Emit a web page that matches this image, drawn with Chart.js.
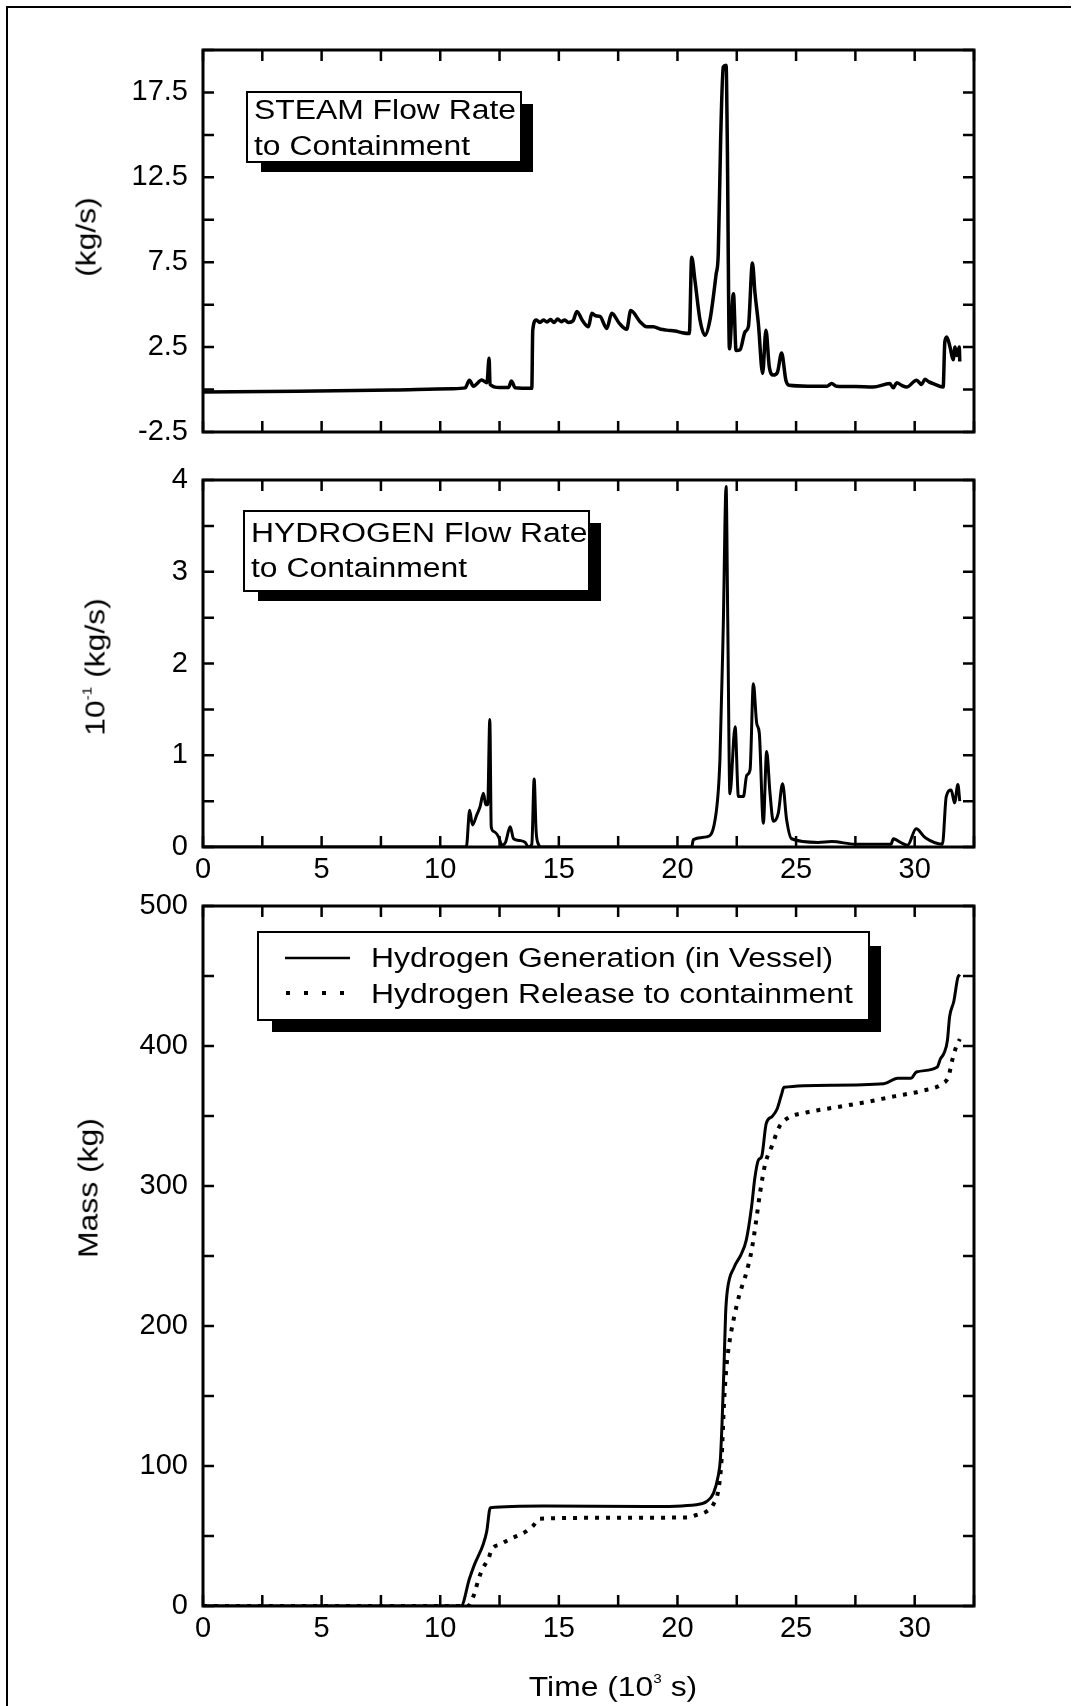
<!DOCTYPE html>
<html>
<head>
<meta charset="utf-8">
<title>Steam and hydrogen flow to containment</title>
<script src="https://cdn.jsdelivr.net/npm/chart.js@4.4.0/dist/chart.umd.min.js"></script>
<style>
  html, body { margin: 0; padding: 0; background: #fff; }
  body { width: 1087px; height: 1706px; position: relative; overflow: hidden;
         font-family: "Liberation Sans", Arial, sans-serif; color: #000; }
  canvas { position: absolute; left: 0; }
  .rule { position: absolute; background: #000; }
  .box { position: absolute; box-sizing: border-box; border: 2px solid #000; background: #fff;
         box-shadow: 13px 11px 0 -2px #000; }
  .txt { position: absolute; font-size: 27px; line-height: 36px; white-space: nowrap;
         transform-origin: 0 0; transform: scaleX(1.18); }
  .axt { position: absolute; font-size: 27px; line-height: 1; white-space: nowrap;
         transform: translate(-50%, -50%) scaleX(1.18); }
  .axt.rot { transform: translate(-50%, -50%) rotate(-90deg) scaleX(1.18); }
  .axt sup { font-size: 13px; vertical-align: 0; position: relative; top: -13px; }
</style>
</head>
<body>
<div class="rule" style="left:8px; top:6px; width:1063px; height:2px"></div>
<div class="rule" style="left:6px; top:6px; width:2px; height:1700px"></div>

<canvas id="steam" width="1087" height="450" style="top:0"></canvas>
<canvas id="hydrogen" width="1087" height="438" style="top:450px"></canvas>
<canvas id="mass" width="1087" height="818" style="top:888px"></canvas>

<!-- panel captions -->
<div class="box" style="left:246px; top:91px; width:276px; height:72px"></div>
<div class="txt" style="left:254px; top:92px">STEAM Flow Rate<br>to Containment</div>

<div class="box" style="left:243px; top:510px; width:347px; height:82px"></div>
<div class="txt" style="left:251px; top:516px; line-height:35px">HYDROGEN Flow Rate<br>to Containment</div>

<!-- legend of the mass panel -->
<div class="box" style="left:257px; top:931px; width:613px; height:90px; box-shadow: 13px 13px 0 -2px #000"></div>
<svg style="position:absolute; left:280px; top:945px" width="80" height="60">
  <line x1="5" y1="13" x2="70" y2="13" stroke="#000" stroke-width="2.5"/>
  <line x1="6" y1="48" x2="66" y2="48" stroke="#000" stroke-width="4" stroke-dasharray="4 14"/>
</svg>
<div class="txt" style="left:371px; top:940px">Hydrogen Generation (in Vessel)<br>Hydrogen Release to containment</div>

<!-- axis titles -->
<div class="axt rot" style="left:87px; top:237px">(kg/s)</div>
<div class="axt rot" style="left:96px; top:667px">10<sup>-1</sup> (kg/s)</div>
<div class="axt rot" style="left:89px; top:1188px">Mass (kg)</div>
<div class="axt" style="left:613px; top:1687px">Time (10<sup>3</sup> s)</div>

<script>
// time in 10^3 s
var steamT = [0, 4, 8, 10.5, 11.05, 11.23, 11.4, 11.75, 11.97, 12.06, 12.1, 12.5, 12.88, 13.0, 13.16, 13.86,
  13.9, 14.05, 14.2, 14.35, 14.5, 14.65, 14.8, 14.95, 15.1, 15.25, 15.4, 15.6, 15.76, 16.0, 16.25, 16.39,
  16.55, 16.74, 17.02, 17.23, 17.55, 17.86, 18.03, 18.42, 18.7, 18.98, 19.3, 19.55, 19.9, 20.2, 20.5,
  20.6, 20.74, 20.95, 21.16, 21.37, 21.63, 21.72, 21.82, 21.93, 22.05, 22.1, 22.19, 22.36, 22.47, 22.64,
  22.85, 22.99, 23.16, 23.27, 23.41, 23.59, 23.73, 23.87, 24.04, 24.21, 24.39, 24.57, 24.71, 25.5, 26.3,
  26.5, 26.7, 27.5, 28.25, 28.95, 29.1, 29.24, 29.45, 29.66, 30.08, 30.29, 30.43, 30.6, 30.78, 31.2,
  31.27, 31.35, 31.49, 31.62, 31.7, 31.77, 31.88, 31.9];
// kg/s
var steamRate = [-0.15, -0.1, -0.02, 0.05, 0.1, 0.55, 0.2, 0.56, 0.4, 1.85, 0.3, 0.12, 0.12, 0.5, 0.1, 0.07,
  3.5, 4.1, 3.95, 4.1, 3.98, 4.12, 3.95, 4.15, 4.0, 4.1, 3.95, 4.05, 4.6, 4.05, 3.7, 4.5,
  4.35, 4.3, 3.6, 4.5, 3.9, 3.55, 4.65, 4.0, 3.7, 3.7, 3.55, 3.5, 3.45, 3.35, 3.3,
  7.8, 6.4, 4.1, 3.2, 4.1, 6.8, 8.0, 14.7, 19.0, 19.1, 14.7, 2.4, 5.65, 2.3, 2.35,
  3.4, 3.7, 7.45, 5.65, 3.9, 0.95, 3.5, 1.35, 0.85, 1.0, 2.15, 0.55, 0.25, 0.2, 0.2,
  0.35, 0.2, 0.18, 0.15, 0.35, 0.1, 0.4, 0.25, 0.15, 0.55, 0.3, 0.6, 0.45, 0.35, 0.15,
  2.8, 3.1, 2.5, 1.75, 2.5, 2.0, 2.5, 1.65];

var h2T = [0, 11.1, 11.24, 11.36, 11.54, 11.68, 11.82, 11.92, 12.0, 12.09, 12.15, 12.25, 12.46, 12.6,
  12.75, 12.95, 13.09, 13.37, 13.58, 13.72, 13.86, 13.96, 14.04, 14.14, 14.25, 20.6, 20.67, 21.23,
  21.58, 21.79, 21.93, 22.05, 22.12, 22.21, 22.43, 22.57, 22.78, 22.92, 23.06, 23.2, 23.34, 23.45,
  23.62, 23.76, 23.9, 24.04, 24.25, 24.43, 24.6, 24.81, 25.93, 26.5, 27.5, 29.0, 29.1, 29.4, 29.7,
  30.06, 30.45, 31.17, 31.33, 31.54, 31.68, 31.82, 31.9];
// 10^-1 kg/s
var h2Rate = [0, 0, 0.4, 0.24, 0.35, 0.44, 0.585, 0.46, 0.46, 1.39, 0.22, 0.17, 0.11, 0.02,
  0.05, 0.22, 0.09, 0.07, 0.05, 0, 0.03, 0.74, 0.18, 0.03, 0, 0, 0.08, 0.11,
  0.29, 0.95, 2.4, 3.93, 2.47, 0.58, 1.31, 0.55, 0.55, 0.78, 0.84, 1.78, 1.35, 1.24,
  0.26, 1.04, 0.59, 0.28, 0.37, 0.69, 0.3, 0.09, 0.05, 0.06, 0.03, 0.03, 0.09, 0.05, 0.02,
  0.2, 0.1, 0.03, 0.55, 0.62, 0.48, 0.68, 0.5];

var genT = [0, 10.88, 11.23, 11.45, 11.81, 11.96, 12.11, 14.35, 18.69, 20.8, 21.23, 21.52, 21.71,
  21.81, 21.88, 21.96, 22.03, 22.1, 22.39, 22.68, 22.9, 23.12, 23.26, 23.41, 23.55, 23.74, 23.99,
  24.2, 24.38, 24.49, 26.5, 28.7, 29.28, 29.85, 30.07, 30.94, 31.09, 31.24, 31.38, 31.47, 31.65,
  31.82, 31.9];
// kg
var genMass = [0, 0, 19.4, 29.9, 44, 53.3, 70.2, 71.4, 71, 72.4, 74.6, 80.6, 92.3,
  105, 131, 170, 209, 225, 242, 251, 261.3, 284.6, 305.5, 318.5, 321, 344.5, 349.7,
  355, 365, 370.5, 372, 373, 377, 377, 381.4, 384.8, 391, 395, 404, 420.7, 432,
  449, 451];

var relT = [0, 11.16, 11.42, 11.62, 11.81, 12.03, 12.17, 12.53, 12.9, 13.62, 13.91, 14.2, 17.5,
  20.44, 20.8, 21.23, 21.52, 21.74, 21.86, 21.96, 22.06, 22.17, 22.39, 22.61, 22.9, 23.12, 23.31,
  23.48, 23.7, 23.99, 24.28, 24.64, 25.37, 26.67, 27.97, 29.13, 30.29, 31.16, 31.42, 31.6, 31.74, 31.9];
var relMass = [0, 0, 7.9, 19.4, 27.3, 33.8, 40.3, 44, 47.5, 53.3, 57.2, 62.4, 63,
  63.3, 65, 67.6, 72.8, 84.4, 105, 144, 170, 186, 206.6, 222.3, 237.9, 253.5, 274.3,
  295, 315.9, 328.9, 341.9, 348.4, 352.3, 356.2, 360, 364, 367.9, 373, 378, 391, 399, 405];

var timeLabels = [0, 5, 10, 15, 20, 25, 30];
var steamLabels = [-2.5, 2.5, 7.5, 12.5, 17.5];
var h2Labels = [0, 1, 2, 3, 4];
var massLabels = [0, 100, 200, 300, 400, 500];

var tickFont = { family: '"Liberation Sans", Arial, sans-serif', size: 29 };

function pairs(xs, ys) {
  return xs.map(function (x, i) { return { x: x, y: ys[i] }; });
}

function hasLabel(list, v) {
  return list.some(function (l) { return Math.abs(l - v) < 1e-6; });
}

// closed frame around the plot area plus short inward ticks on all four sides
var frameTicks = {
  id: 'frameTicks',
  afterDatasetsDraw: function (chart) {
    var ctx = chart.ctx, a = chart.chartArea, x = chart.scales.x, y = chart.scales.y;
    var len = 11;
    ctx.save();
    ctx.strokeStyle = '#000';
    ctx.lineWidth = 2.5;
    ctx.beginPath();
    x.ticks.forEach(function (t) {
      var px = x.getPixelForValue(t.value);
      ctx.moveTo(px, a.bottom); ctx.lineTo(px, a.bottom - len);
      ctx.moveTo(px, a.top); ctx.lineTo(px, a.top + len);
    });
    y.ticks.forEach(function (t) {
      var py = y.getPixelForValue(t.value);
      ctx.moveTo(a.left, py); ctx.lineTo(a.left + len, py);
      ctx.moveTo(a.right, py); ctx.lineTo(a.right - len, py);
    });
    ctx.stroke();
    ctx.lineWidth = 3;
    ctx.strokeRect(a.left, a.top, a.right - a.left, a.bottom - a.top);
    ctx.restore();
  }
};

function xScale(labels, height) {
  return {
    type: 'linear', min: 0, max: 32.5,
    grid: { display: false, drawTicks: false },
    border: { display: false },
    ticks: {
      stepSize: 2.5, autoSkip: false, maxRotation: 0, padding: 6, color: '#000', font: tickFont,
      callback: function (v) { return hasLabel(labels, v) ? String(v) : ''; }
    },
    afterFit: function (s) { s.height = height; }
  };
}

function yScale(min, max, step, labels) {
  return {
    type: 'linear', min: min, max: max,
    grid: { display: false, drawTicks: false },
    border: { display: false },
    ticks: {
      stepSize: step, autoSkip: false, padding: 15, color: '#000', font: tickFont,
      callback: function (v) { return hasLabel(labels, v) ? String(v) : ''; }
    },
    // fixed axis width so the three plots line up; end labels may overhang the frame
    afterFit: function (s) { s.width = 203; s.paddingTop = 0; s.paddingBottom = 0; }
  };
}

function baseOptions(padTop, xs, ys) {
  return {
    responsive: false, animation: false, events: [],
    layout: { padding: { left: 0, right: 113, top: padTop, bottom: 0 } },
    plugins: { legend: { display: false }, tooltip: { enabled: false } },
    elements: { point: { radius: 0 }, line: { cubicInterpolationMode: 'monotone' } },
    scales: { x: xs, y: ys }
  };
}

new Chart(document.getElementById('steam'), {
  type: 'line',
  data: { datasets: [{ data: pairs(steamT, steamRate), borderColor: '#000', borderWidth: 3.5 }] },
  options: baseOptions(50, xScale([], 18), yScale(-2.5, 20, 2.5, steamLabels)),
  plugins: [frameTicks]
});

new Chart(document.getElementById('hydrogen'), {
  type: 'line',
  data: { datasets: [{ data: pairs(h2T, h2Rate), borderColor: '#000', borderWidth: 3 }] },
  options: baseOptions(30, xScale(timeLabels, 41), yScale(0, 4, 0.5, h2Labels)),
  plugins: [frameTicks]
});

new Chart(document.getElementById('mass'), {
  type: 'line',
  data: {
    datasets: [
      { label: 'Hydrogen Generation (in Vessel)', data: pairs(genT, genMass),
        borderColor: '#000', borderWidth: 3 },
      { label: 'Hydrogen Release to containment', data: pairs(relT, relMass),
        borderColor: '#000', borderWidth: 4, borderDash: [4, 7], borderCapStyle: 'butt' }
    ]
  },
  options: baseOptions(18, xScale(timeLabels, 100), yScale(0, 500, 50, massLabels)),
  plugins: [frameTicks]
});
</script>
</body>
</html>
